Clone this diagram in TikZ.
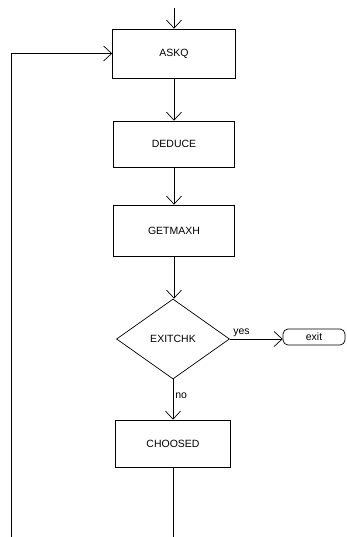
\documentclass[tikz,border=0pt]{standalone}
\usepackage{fontspec}
\setmainfont{Liberation Sans}
\usepackage{tikz}
\usetikzlibrary{arrows.meta,positioning,shapes.geometric,calc}
\tikzset{
  box/.style={draw,align=center,inner sep=3pt,
              font=\fontsize{10.5}{12}\selectfont},
  dec/.style={box,diamond,inner sep=0pt,minimum width=113pt,minimum height=80pt},
  term/.style={box,rounded corners=5pt,minimum width=62pt,minimum height=16pt,
               inner sep=1pt},
  lbl/.style={font=\fontsize{10.5}{12}\selectfont,inner sep=2pt},
  fl/.style={-{Straight Barb[length=8pt,width=15pt,line width=0.7pt]}},
}

\begin{document}
\begin{tikzpicture}[x=1pt, y=-1pt, line width=0.7pt]
  \useasboundingbox (0,0) rectangle (347,537);
  % The main line of steps, top to bottom.
  \node[box, minimum width=123pt, minimum height=49pt] (askq) at (174,53.5) {ASKQ};
  \node[box, minimum width=121pt, minimum height=46pt] (deduce) at (174,144) {DEDUCE};
  \node[box, minimum width=121pt, minimum height=51pt] (getmaxh) at (174,230.5) {GETMAXH};
  \node[dec] (exitchk) at (173,339) {EXITCHK};
  \node[box, minimum width=115pt, minimum height=47pt] (choosed) at (173,443.5) {CHOOSED};
  \node[term] (exit) at (314,337) {exit};
  % Free ends: the way in, and the open ends at the foot.
  \coordinate (start) at (174,8);
  \coordinate (loopfoot) at (11,537);
  \draw[fl] (start) -- (askq);
  \draw[fl] (askq) -- (deduce);
  \draw[fl] (deduce) -- (getmaxh);
  \draw[fl] (getmaxh.south) -- (exitchk.north -| getmaxh.south);
  \draw[fl] (exitchk.east) -- (exit.west |- exitchk.east)
       node[lbl, pos=0.22, above] {yes};
  \draw[fl] (exitchk.south) -- (choosed.north -| exitchk.south)
       node[lbl, pos=0.4, right] {no};
  % Back round to the first step.
  \draw[fl] (loopfoot) |- (askq.west);
  \draw (choosed.south) -- (choosed.south |- loopfoot);
\end{tikzpicture}
\end{document}
